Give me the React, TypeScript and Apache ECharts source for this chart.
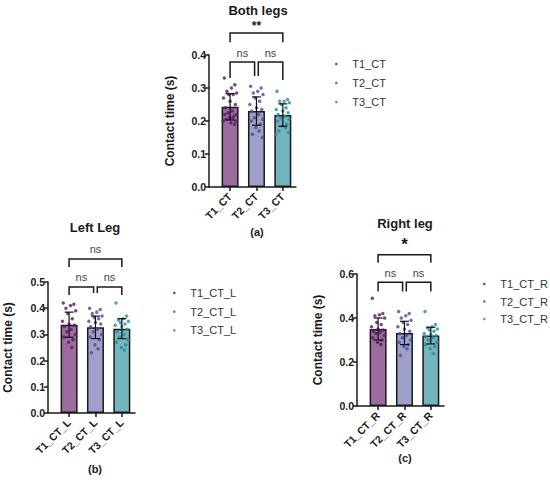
import React, { useEffect, useRef } from "react";
import * as echarts from "echarts";

// ---------- DATA ----------
const TITLES = ["Both legs", "Left Leg", "Right leg"];
const TAGS = ["(a)", "(b)", "(c)"];

const CATS_A = ["T1_CT", "T2_CT", "T3_CT"];
const CATS_B = ["T1_CT_L", "T2_CT_L", "T3_CT_L"];
const CATS_C = ["T1_CT_R", "T2_CT_R", "T3_CT_R"];

const MEAN_A = [0.243, 0.23, 0.218];
const SD_A = [0.04, 0.043, 0.034];
const MEAN_B = [0.337, 0.327, 0.322];
const SD_B = [0.048, 0.043, 0.038];
const MEAN_C = [0.35, 0.332, 0.32];
const SD_C = [0.05, 0.053, 0.038];

const DOTS_A1 = [0.33, 0.31, 0.3, 0.29, 0.285, 0.28, 0.28, 0.27, 0.26, 0.25, 0.24, 0.23, 0.225, 0.22, 0.22, 0.215, 0.21, 0.21, 0.205, 0.2, 0.2, 0.195, 0.19];
const DOTS_A2 = [0.305, 0.3, 0.29, 0.285, 0.28, 0.27, 0.26, 0.25, 0.24, 0.235, 0.23, 0.22, 0.21, 0.205, 0.2, 0.19, 0.18, 0.17, 0.16, 0.15];
const DOTS_A3 = [0.29, 0.265, 0.26, 0.26, 0.255, 0.25, 0.24, 0.235, 0.23, 0.225, 0.22, 0.215, 0.21, 0.205, 0.2, 0.19, 0.185, 0.18, 0.17, 0.165, 0.16];

const DOTS_B1 = [0.42, 0.415, 0.41, 0.4, 0.39, 0.38, 0.36, 0.35, 0.34, 0.335, 0.33, 0.32, 0.31, 0.3, 0.29, 0.28, 0.27, 0.25];
const DOTS_B2 = [0.4, 0.395, 0.385, 0.38, 0.37, 0.365, 0.36, 0.35, 0.345, 0.34, 0.33, 0.32, 0.31, 0.3, 0.29, 0.28, 0.26, 0.245, 0.23];
const DOTS_B3 = [0.42, 0.37, 0.36, 0.355, 0.35, 0.345, 0.34, 0.335, 0.33, 0.32, 0.31, 0.3, 0.29, 0.28, 0.27, 0.26, 0.25, 0.24];

const DOTS_C1 = [0.49, 0.42, 0.415, 0.41, 0.4, 0.38, 0.37, 0.36, 0.35, 0.345, 0.34, 0.335, 0.33, 0.32, 0.31, 0.3, 0.29, 0.28];
const DOTS_C2 = [0.43, 0.42, 0.41, 0.4, 0.39, 0.38, 0.37, 0.36, 0.35, 0.34, 0.33, 0.32, 0.31, 0.3, 0.29, 0.28, 0.27, 0.26, 0.23];
const DOTS_C3 = [0.43, 0.37, 0.36, 0.355, 0.35, 0.345, 0.34, 0.33, 0.325, 0.32, 0.315, 0.31, 0.3, 0.29, 0.28, 0.27, 0.26, 0.24];

const Y_MAX = [0.4, 0.5, 0.6];
const Y_STEP = [0.1, 0.1, 0.2];

// significance brackets: from, to, line level, left drop end, right drop end, label level, label
const SIG_A = [
  [1, 3, 0.467, 0.439, 0.439, 0.488, "**"],
  [1, 1.93, 0.379, 0.33, 0.336, 0.406, "ns"],
  [2.07, 3, 0.379, 0.336, 0.324, 0.406, "ns"],
];
const SIG_B = [
  [1, 3, 0.588, 0.557, 0.557, 0.626, "ns"],
  [1, 1.93, 0.481, 0.45, 0.458, 0.519, "ns"],
  [2.07, 3, 0.481, 0.458, 0.45, 0.519, "ns"],
];
const SIG_C = [
  [1, 3, 0.687, 0.651, 0.651, 0.735, "*"],
  [1, 1.93, 0.562, 0.521, 0.521, 0.606, "ns"],
  [2.07, 3, 0.562, 0.521, 0.521, 0.606, "ns"],
];

// ---------- STYLE / LAYOUT ----------
const BAR_COLORS = ["#9c6c9f", "#9e9fcb", "#74b4bd"];
const DOT_COLORS = ["#5a1b62", "#4a4c96", "#2b8c98"];
const SPREAD = [-0.22, 0.18, 0.05, -0.12, 0.25, -0.05, 0.12, -0.25, 0.0, 0.2, -0.18, 0.08, -0.08, 0.24, -0.2, 0.15, -0.02, 0.1, -0.15, 0.22, -0.26, 0.03, 0.17, -0.1];
const FONT = "'Liberation Sans', Arial, sans-serif";

const GRIDS = [
  { left: 209, top: 55, width: 87, height: 132 },
  { left: 48, top: 282, width: 87, height: 131 },
  { left: 357, top: 274, width: 87, height: 132 },
];
const NAME_GAPS = [33, 34, 33];
const LEGENDS = [
  { left: 330, top: 52.5, gap: 6 },
  { left: 168, top: 281.5, gap: 5.7 },
  { left: 478, top: 272.5, gap: 4.5 },
];
const TITLE_POS = [
  [258, 10],
  [95, 227],
  [405, 223],
];
const TAG_POS = [
  [257, 232],
  [95, 469],
  [405, 458],
];

const PANELS = [
  { cats: CATS_A, mean: MEAN_A, sd: SD_A, dots: [DOTS_A1, DOTS_A2, DOTS_A3], sig: SIG_A },
  { cats: CATS_B, mean: MEAN_B, sd: SD_B, dots: [DOTS_B1, DOTS_B2, DOTS_B3], sig: SIG_B },
  { cats: CATS_C, mean: MEAN_C, sd: SD_C, dots: [DOTS_C1, DOTS_C2, DOTS_C3], sig: SIG_C },
];

function buildOption() {
  const grid: any[] = [];
  const xAxis: any[] = [];
  const yAxis: any[] = [];
  const series: any[] = [];
  const legend: any[] = [];
  const graphic: any[] = [];

  PANELS.forEach((p, k) => {
    grid.push({ ...GRIDS[k], containLabel: false });
    xAxis.push({
      type: "value",
      gridIndex: k,
      min: 0.2,
      max: 3.5,
      splitLine: { show: false },
      axisLine: { show: true, lineStyle: { color: "#1a1a1a", width: 1.5 } },
      axisTick: { show: true, customValues: [1, 2, 3], length: 4, lineStyle: { color: "#1a1a1a", width: 1.5 } },
      axisLabel: {
        customValues: [1, 2, 3],
        rotate: 45,
        margin: 8,
        formatter: (v: number) => p.cats[Math.round(v) - 1] ?? "",
        color: "#1a1a1a",
        fontFamily: FONT,
        fontWeight: "bold",
        fontSize: 10.5,
      },
    });
    yAxis.push({
      type: "value",
      gridIndex: k,
      min: 0,
      max: Y_MAX[k],
      interval: Y_STEP[k],
      splitLine: { show: false },
      axisLine: { show: true, lineStyle: { color: "#1a1a1a", width: 1.5 } },
      axisTick: { show: true, length: 4, lineStyle: { color: "#1a1a1a", width: 1.5 } },
      axisLabel: {
        formatter: (v: number) => v.toFixed(1),
        color: "#1a1a1a",
        fontFamily: FONT,
        fontWeight: "bold",
        fontSize: 10.5,
        margin: 3,
      },
      name: "Contact time (s)",
      nameLocation: "middle",
      nameGap: NAME_GAPS[k],
      nameTextStyle: { color: "#1a1a1a", fontFamily: FONT, fontWeight: "bold", fontSize: 12 },
    });

    series.push({
      type: "bar",
      name: "bar" + k,
      xAxisIndex: k,
      yAxisIndex: k,
      barWidth: 17,
      z: 2,
      data: p.mean.map((m, i) => ({
        value: [i + 1, m],
        itemStyle: { color: BAR_COLORS[i], borderColor: "#1a1a1a", borderWidth: 1.5 },
      })),
    });

    p.dots.forEach((arr, i) => {
      series.push({
        type: "scatter",
        name: p.cats[i],
        xAxisIndex: k,
        yAxisIndex: k,
        symbol: "circle",
        symbolSize: 3.5,
        z: 3,
        itemStyle: { color: DOT_COLORS[i] },
        data: arr.map((v, j) => [i + 1 + SPREAD[j % SPREAD.length], v]),
      });
    });

    series.push({
      type: "custom",
      name: "err" + k,
      xAxisIndex: k,
      yAxisIndex: k,
      z: 4,
      encode: { x: 0, y: 1 },
      data: p.mean.map((m, i) => [i + 1, m, p.sd[i]]),
      renderItem: (params: any, api: any) => {
        const x = api.value(0);
        const m = api.value(1);
        const s = api.value(2);
        const t = api.coord([x, m + s]);
        const b = api.coord([x, m - s]);
        const hw = 4.5;
        const st = { stroke: "#111", lineWidth: 1.2 };
        return {
          type: "group",
          children: [
            { type: "line", shape: { x1: t[0], y1: t[1], x2: b[0], y2: b[1] }, style: st },
            { type: "line", shape: { x1: t[0] - hw, y1: t[1], x2: t[0] + hw, y2: t[1] }, style: st },
            { type: "line", shape: { x1: b[0] - hw, y1: b[1], x2: b[0] + hw, y2: b[1] }, style: st },
          ],
        };
      },
    });

    series.push({
      type: "custom",
      name: "sig" + k,
      xAxisIndex: k,
      yAxisIndex: k,
      z: 4,
      clip: false,
      encode: { x: 0, y: 2 },
      data: p.sig.map((s) => s.slice(0, 6)),
      renderItem: (params: any, api: any) => {
        const s = p.sig[params.dataIndex];
        const from = s[0] as number;
        const to = s[1] as number;
        const a = api.coord([from, s[3] as number]);
        const b = api.coord([from, s[2] as number]);
        const c = api.coord([to, s[2] as number]);
        const d = api.coord([to, s[4] as number]);
        const lab = api.coord([(from + to) / 2, s[5] as number]);
        const text = s[6] as string;
        const isStar = text !== "ns";
        return {
          type: "group",
          children: [
            {
              type: "polyline",
              shape: { points: [a, b, c, d] },
              style: { stroke: "#1a1a1a", lineWidth: 1.5, fill: "none" },
            },
            {
              type: "text",
              x: lab[0],
              y: lab[1],
              style: {
                text,
                fill: isStar ? "#1a1a1a" : "#444",
                font: isStar
                  ? `bold ${text === "*" ? 17 : 12}px ${FONT}`
                  : `11px ${FONT}`,
                align: "center",
                verticalAlign: "middle",
                textAlign: "center",
                textVerticalAlign: "middle",
              },
            },
          ],
        };
      },
    });

    legend.push({
      left: LEGENDS[k].left,
      top: LEGENDS[k].top,
      orient: "vertical",
      data: p.cats,
      selectedMode: false,
      icon: "circle",
      itemWidth: 22,
      itemHeight: 2.6,
      itemGap: LEGENDS[k].gap,
      textStyle: { color: "#333", fontFamily: FONT, fontSize: 11, lineHeight: 13 },
    });

    graphic.push({
      type: "text",
      x: TITLE_POS[k][0],
      y: TITLE_POS[k][1],
      style: {
        text: TITLES[k],
        fill: "#1a1a1a",
        font: `bold 13px ${FONT}`,
        textAlign: "center",
        textVerticalAlign: "middle",
      },
    });
    graphic.push({
      type: "text",
      x: TAG_POS[k][0],
      y: TAG_POS[k][1],
      style: {
        text: TAGS[k],
        fill: "#1a1a1a",
        font: `bold 11px ${FONT}`,
        textAlign: "center",
        textVerticalAlign: "middle",
      },
    });
  });

  return {
    animation: false,
    backgroundColor: "#ffffff",
    grid,
    xAxis,
    yAxis,
    series,
    legend,
    graphic,
  };
}

export default function App() {
  const ref = useRef<HTMLDivElement>(null);
  useEffect(() => {
    document.body.style.margin = "0";
    const chart = echarts.init(ref.current as HTMLDivElement, undefined, { renderer: "svg" });
    chart.setOption(buildOption() as any);
    return () => chart.dispose();
  }, []);
  return <div ref={ref} style={{ width: 550, height: 480, background: "#fff" }} />;
}
